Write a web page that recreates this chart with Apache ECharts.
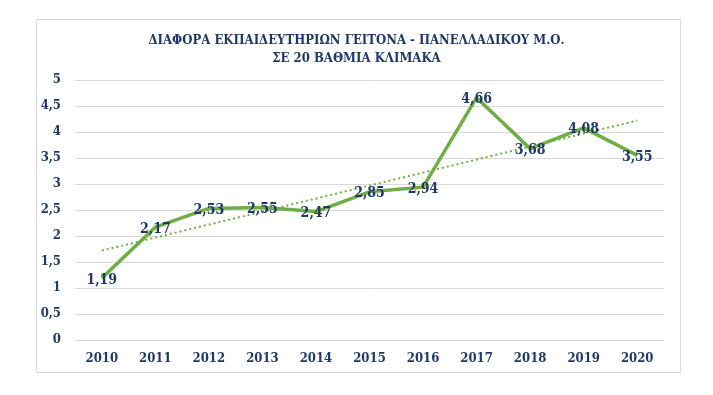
<!DOCTYPE html>
<html>
<head>
<meta charset="utf-8">
<script src="https://cdn.jsdelivr.net/npm/echarts@6/dist/echarts.min.js"></script>
<style>
html,body{margin:0;padding:0;background:#fff;}
#frame{position:absolute;left:36px;top:19px;width:645px;height:354px;border:1px solid #d9d9d9;box-sizing:border-box;}
#c{position:absolute;left:0;top:0;width:713px;height:395px;}
</style>
</head>
<body>
<div id="frame"></div>
<div id="c"></div>
<script>
const years = ['2010','2011','2012','2013','2014','2015','2016','2017','2018','2019','2020'];
const values = [1.19, 2.17, 2.53, 2.55, 2.47, 2.85, 2.94, 4.66, 3.68, 4.08, 3.55];
const trendStart = 1.72;
const trendEnd = 4.22;
const titleLines = ['ΔΙΑΦΟΡΑ ΕΚΠΑΙΔΕΥΤΗΡΙΩΝ ΓΕΙΤΟΝΑ - ΠΑΝΕΛΛΑΔΙΚΟΥ Μ.Ο.', 'ΣΕ 20 ΒΑΘΜΙΑ ΚΛΙΜΑΚΑ'];

const navy = '#1f3864';
const green = '#70ad47';
const fontFam = '"DejaVu Serif Condensed", "Liberation Serif", serif';
const trendData = years.map((y, i) => i === 0 ? trendStart : (i === years.length - 1 ? trendEnd : null));
const fmt = v => String(v).replace('.', ',');

const chart = echarts.init(document.getElementById('c'));
chart.setOption({
  animation: false,
  title: {
    text: titleLines.join('\n'),
    left: 'center',
    top: 27,
    textStyle: { color: navy, fontFamily: fontFam, fontWeight: 'bold', fontSize: 13, lineHeight: 18 }
  },
  grid: { left: 75, right: 49, top: 80, bottom: 55 },
  xAxis: {
    type: 'category',
    data: years,
    boundaryGap: true,
    axisLine: { show: false },
    axisTick: { show: false },
    axisLabel: { color: navy, fontFamily: fontFam, fontWeight: 'bold', fontSize: 13, margin: 12 }
  },
  yAxis: {
    type: 'value',
    min: 0, max: 5, interval: 0.5,
    axisLine: { show: false },
    axisTick: { show: false },
    splitLine: { lineStyle: { color: '#d9d9d9', width: 1 } },
    axisLabel: { color: navy, fontFamily: fontFam, fontWeight: 'bold', fontSize: 13, margin: 14, formatter: v => fmt(v) }
  },
  series: [
    {
      type: 'line',
      data: trendData,
      connectNulls: true,
      symbol: 'none',
      lineStyle: { color: green, width: 2, type: [2, 3] },
      z: 1,
      silent: true
    },
    {
      type: 'line',
      data: values,
      symbol: 'circle',
      symbolSize: 0,
      showSymbol: true,
      itemStyle: { color: green },
      lineStyle: { color: green, width: 3.5 },
      z: 2,
      label: {
        show: true,
        position: 'inside',
        offset: [0, 2],
        color: navy,
        fontFamily: fontFam,
        fontWeight: 'bold',
        fontSize: 14,
        formatter: p => fmt(p.value)
      }
    }
  ]
});
</script>
</body>
</html>
